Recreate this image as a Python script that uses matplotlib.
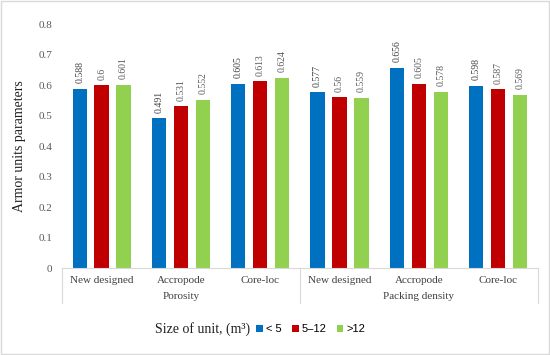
import matplotlib.pyplot as plt
import numpy as np
from matplotlib.patches import Rectangle

categories = ['New designed', 'Accropode', 'Core-loc', 'New designed', 'Accropode', 'Core-loc']
groups = ['Porosity', 'Packing density']
series_names = ['< 5', '5\u201312', '>12']
small = [0.588, 0.491, 0.605, 0.577, 0.656, 0.598]
medium = [0.6, 0.531, 0.613, 0.56, 0.605, 0.587]
large = [0.601, 0.552, 0.624, 0.559, 0.578, 0.569]
colors = ['#0070C0', '#C00000', '#92D050']
label_colors = ['#404040', '#595959', '#595959']

serif = ['Liberation Serif', 'DejaVu Serif']
sans = ['Liberation Sans', 'DejaVu Sans']

fig = plt.figure(figsize=(5.5, 3.55), dpi=100)
ax = fig.add_axes([0.1127, 0.245, 0.865, 0.687])
x = np.arange(len(categories))
w = 0.18; step = 0.277
for i, (vals, c, lc) in enumerate(zip([small, medium, large], colors, label_colors)):
    pos = x + (i - 1) * step
    ax.bar(pos, vals, width=w, color=c, label=series_names[i])
    for p, v in zip(pos, vals):
        ax.annotate(f'{v:g}', (p, v), xytext=(0, 4), textcoords='offset points', rotation=90,
                    ha='center', va='bottom', fontsize=7, color=lc, family=serif)

ax.set_xlim(-0.5, len(categories) - 0.5)
ax.set_ylim(0, 0.8)
ax.set_yticks(np.arange(0, 0.81, 0.1))
ax.set_yticklabels(['0'] + [f'{t:.1f}' for t in np.arange(0.1, 0.81, 0.1)], family=serif, fontsize=8, color='#595959')
ax.set_xticks(x)
ax.set_xticklabels(categories, family=serif, fontsize=8, color='#404040')
ax.tick_params(axis='both', length=0)
ax.tick_params(axis='x', pad=6)
ax.tick_params(axis='y', pad=7)
for s in ['top', 'right', 'left']:
    ax.spines[s].set_visible(False)
ax.spines['bottom'].set_color('#D9D9D9')
ax.set_ylabel('Armor units parameters', family=serif, fontsize=10, color='#202020', labelpad=9)

# group separators and labels
for xs in [-0.5, 2.5, 5.5]:
    ax.plot([xs, xs], [0, -0.115], color='#D9D9D9', lw=0.8, clip_on=False, transform=ax.transData)
for gi, g in enumerate(groups):
    ax.text(1 + 3 * gi, -0.095, g, ha='center', va='center', family=serif, fontsize=8, color='#404040')

fig.text(0.455, 0.073, 'Size of unit, (m\u00b3)', ha='right', va='center', family=serif, fontsize=10, color='#202020')
fig.legend(loc='center left', bbox_to_anchor=(0.466, 0.073), ncol=3, frameon=False,
           prop={'family': sans, 'size': 8}, handlelength=0.6, handleheight=0.6,
           handletextpad=0.3, columnspacing=0.9, borderpad=0, borderaxespad=0)

fig.patches.append(Rectangle((0.002, 0.003), 0.996, 0.994, transform=fig.transFigure,
                             fill=False, edgecolor='#D9D9D9', lw=1))
fig.savefig('out.png', dpi=100)
